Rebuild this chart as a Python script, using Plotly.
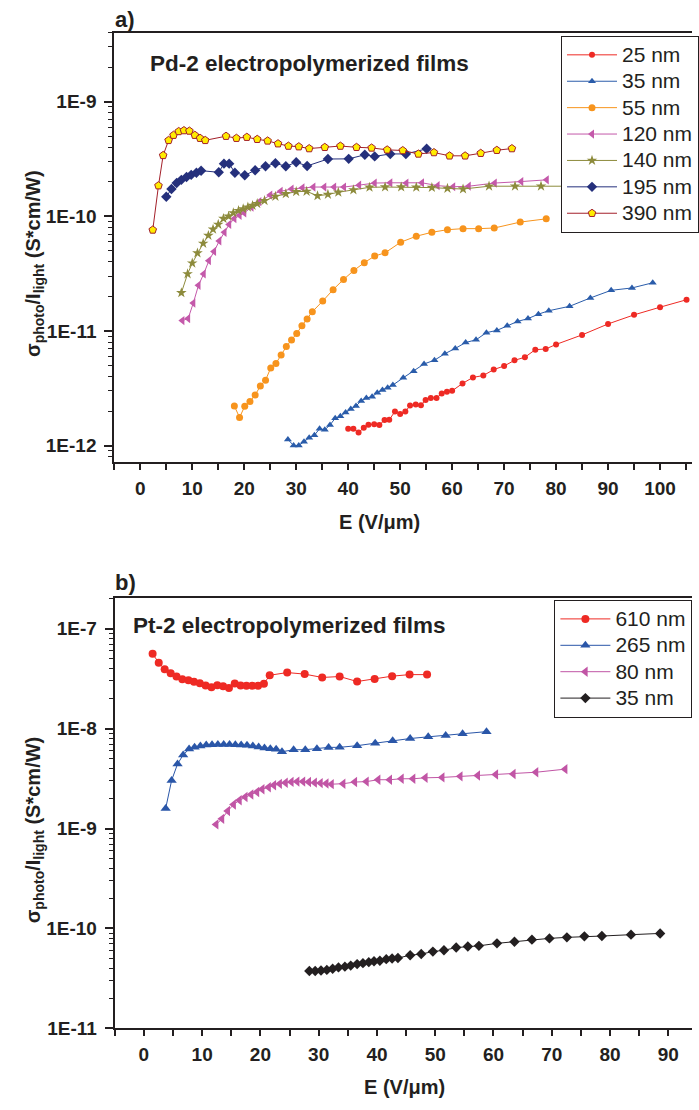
import plotly.graph_objects as go

W, H = 699, 1110
FONT = "Arial, 'Liberation Sans', sans-serif"
INK = "#231f20"

# ---------------- panel a: Pd-2 films ----------------
E_25 = [40.0, 41.0, 42.0, 43.0, 43.9, 45.0, 46.0, 47.0, 47.9, 49.0, 50.0, 51.0, 51.9, 53.0, 54.0, 54.9,
        55.9, 57.0, 58.0, 59.0, 60.0, 62.0, 64.0, 66.0, 68.0, 70.0, 72.0, 74.0, 76.0, 78.0, 80.0, 85.0,
        90.0, 95.0, 100.0, 105.1]
S_25 = [1.40e-12, 1.40e-12, 1.30e-12, 1.43e-12, 1.52e-12, 1.53e-12, 1.51e-12, 1.67e-12, 1.68e-12, 1.98e-12,
        1.88e-12, 1.98e-12, 2.23e-12, 2.28e-12, 2.25e-12, 2.50e-12, 2.60e-12, 2.60e-12, 2.84e-12, 2.95e-12,
        3.00e-12, 3.48e-12, 3.93e-12, 4.08e-12, 4.60e-12, 4.94e-12, 5.54e-12, 5.89e-12, 6.86e-12, 6.95e-12,
        7.62e-12, 9.23e-12, 1.15e-11, 1.38e-11, 1.61e-11, 1.87e-11]

E_35 = [28.4, 29.5, 30.5, 31.5, 32.5, 33.5, 34.5, 35.5, 36.5, 37.5, 38.5, 39.5, 40.5, 41.5, 42.5, 43.5,
        44.6, 45.6, 46.6, 47.6, 48.6, 50.6, 52.6, 54.6, 56.6, 58.6, 60.6, 62.6, 64.6, 66.6, 68.6, 70.6,
        72.6, 74.6, 76.6, 78.6, 82.6, 86.6, 90.6, 94.6, 98.6]
S_35 = [1.13e-12, 1.00e-12, 1.00e-12, 1.08e-12, 1.17e-12, 1.23e-12, 1.40e-12, 1.37e-12, 1.51e-12, 1.73e-12,
        1.80e-12, 1.94e-12, 2.08e-12, 2.21e-12, 2.45e-12, 2.60e-12, 2.66e-12, 2.89e-12, 3.05e-12, 3.19e-12,
        3.37e-12, 3.90e-12, 4.45e-12, 5.15e-12, 5.55e-12, 6.33e-12, 7.03e-12, 7.92e-12, 8.36e-12, 9.66e-12,
        1.01e-11, 1.11e-11, 1.21e-11, 1.28e-11, 1.40e-11, 1.50e-11, 1.64e-11, 1.94e-11, 2.26e-11, 2.37e-11,
        2.63e-11]

E_55 = [18.1, 19.1, 20.1, 21.1, 22.1, 23.1, 24.1, 25.1, 26.1, 27.1, 28.1, 29.1, 30.1, 31.1, 32.1, 33.1,
        35.1, 37.1, 39.1, 41.1, 43.1, 45.1, 47.1, 50.1, 53.1, 56.1, 59.1, 62.1, 65.1, 68.1, 73.1, 78.1]
S_55 = [2.21e-12, 1.76e-12, 2.20e-12, 2.42e-12, 2.76e-12, 3.30e-12, 3.72e-12, 4.75e-12, 5.20e-12, 6.15e-12,
        7.30e-12, 8.35e-12, 9.50e-12, 1.11e-11, 1.27e-11, 1.47e-11, 1.82e-11, 2.29e-11, 2.81e-11, 3.37e-11,
        3.94e-11, 4.50e-11, 4.80e-11, 5.94e-11, 6.70e-11, 7.25e-11, 7.64e-11, 7.80e-11, 7.80e-11, 7.90e-11,
        8.90e-11, 9.50e-11]

E_120 = [8.1, 9.2, 10.2, 11.2, 12.2, 13.2, 14.2, 15.2, 16.2, 17.1, 18.1, 19.1, 20.0, 21.4, 22.9, 25.0,
         27.0, 29.1, 31.2, 33.3, 35.4, 37.3, 39.2, 42.1, 45.1, 48.1, 51.2, 54.2, 57.2, 60.2, 63.2, 68.2,
         73.3, 78.2]
S_120 = [1.23e-11, 1.28e-11, 1.75e-11, 2.50e-11, 3.14e-11, 4.10e-11, 4.93e-11, 6.10e-11, 7.25e-11, 8.50e-11,
         9.55e-11, 1.02e-10, 1.07e-10, 1.20e-10, 1.34e-10, 1.53e-10, 1.65e-10, 1.73e-10, 1.77e-10, 1.80e-10,
         1.80e-10, 1.80e-10, 1.80e-10, 1.87e-10, 1.95e-10, 1.96e-10, 1.95e-10, 1.96e-10, 1.85e-10, 1.81e-10,
         1.83e-10, 1.95e-10, 2.01e-10, 2.08e-10]

E_140 = [7.9, 9.1, 10.0, 11.0, 12.1, 13.1, 14.0, 15.0, 16.0, 17.0, 17.9, 18.9, 19.8, 20.7, 21.6, 22.5,
         23.9, 26.0, 28.0, 30.0, 32.0, 34.1, 36.1, 38.1, 41.0, 44.1, 47.1, 50.2, 53.1, 56.1, 59.1, 62.1,
         67.1, 72.1, 77.1, 82.1]
S_140 = [2.15e-11, 3.14e-11, 3.90e-11, 4.78e-11, 5.80e-11, 6.80e-11, 7.70e-11, 8.50e-11, 9.55e-11, 1.00e-10,
         1.07e-10, 1.12e-10, 1.16e-10, 1.20e-10, 1.24e-10, 1.29e-10, 1.37e-10, 1.49e-10, 1.57e-10, 1.64e-10,
         1.65e-10, 1.51e-10, 1.55e-10, 1.62e-10, 1.70e-10, 1.79e-10, 1.80e-10, 1.80e-10, 1.79e-10, 1.78e-10,
         1.75e-10, 1.73e-10, 1.83e-10, 1.83e-10, 1.83e-10, 1.83e-10]

E_195 = [5.0, 6.0, 7.0, 7.9, 8.9, 9.8, 10.8, 11.7, 15.1, 16.1, 17.1, 18.2, 20.1, 22.1, 24.1, 26.0,
         28.0, 30.0, 32.1, 36.1, 40.1, 43.2, 45.1, 48.1, 51.1, 55.1]
S_195 = [1.48e-10, 1.73e-10, 1.95e-10, 2.08e-10, 2.20e-10, 2.30e-10, 2.40e-10, 2.50e-10, 2.42e-10, 2.88e-10,
         2.88e-10, 2.40e-10, 2.28e-10, 2.52e-10, 2.73e-10, 2.90e-10, 2.73e-10, 2.96e-10, 2.75e-10, 3.16e-10,
         3.17e-10, 3.44e-10, 3.33e-10, 3.50e-10, 3.50e-10, 3.88e-10]

E_390 = [2.4, 3.5, 4.4, 5.45, 6.4, 7.4, 8.4, 9.45, 10.5, 11.5, 12.5, 16.5, 18.5, 20.5, 22.5, 24.5,
         26.5, 28.5, 30.5, 32.5, 35.5, 38.5, 41.6, 44.5, 47.5, 50.5, 53.5, 56.5, 59.5, 62.5, 65.5, 68.6,
         71.5]
S_390 = [7.6e-11, 1.85e-10, 3.40e-10, 4.60e-10, 5.10e-10, 5.50e-10, 5.60e-10, 5.55e-10, 5.10e-10, 4.80e-10,
         4.60e-10, 5.00e-10, 4.80e-10, 4.90e-10, 4.70e-10, 4.55e-10, 4.30e-10, 4.10e-10, 4.05e-10, 3.90e-10,
         4.00e-10, 4.10e-10, 4.00e-10, 3.95e-10, 3.80e-10, 3.75e-10, 3.50e-10, 3.60e-10, 3.37e-10, 3.37e-10,
         3.55e-10, 3.77e-10, 3.90e-10]

# ---------------- panel b: Pt-2 films ----------------
E_610 = [1.5, 2.55, 3.57, 4.6, 5.6, 6.6, 7.65, 8.6, 9.6, 10.6, 11.6, 12.6, 13.6, 14.6, 15.6, 16.6,
         17.6, 18.6, 19.6, 20.6, 21.6, 24.6, 27.6, 30.6, 33.6, 36.6, 39.6, 42.6, 45.6, 48.6]
S_610 = [5.60e-8, 4.57e-8, 3.93e-8, 3.58e-8, 3.32e-8, 3.12e-8, 3.04e-8, 2.94e-8, 2.85e-8, 2.70e-8,
         2.60e-8, 2.72e-8, 2.65e-8, 2.55e-8, 2.83e-8, 2.70e-8, 2.68e-8, 2.68e-8, 2.68e-8, 2.81e-8,
         3.42e-8, 3.64e-8, 3.51e-8, 3.25e-8, 3.32e-8, 2.96e-8, 3.13e-8, 3.35e-8, 3.47e-8, 3.47e-8]

E_265 = [3.74, 4.76, 5.78, 6.74, 7.76, 8.7, 9.7, 10.7, 11.7, 12.7, 13.7, 14.7, 15.7, 16.7, 17.7, 18.7,
         19.7, 20.7, 21.7, 22.7, 23.7, 25.7, 27.7, 29.7, 31.7, 33.6, 36.6, 39.7, 42.7, 45.7, 48.8, 51.8,
         54.7, 58.8]
S_265 = [1.59e-9, 3.03e-9, 4.43e-9, 5.45e-9, 6.24e-9, 6.50e-9, 6.70e-9, 6.85e-9, 6.90e-9, 6.95e-9,
         6.95e-9, 6.95e-9, 6.90e-9, 6.85e-9, 6.80e-9, 6.70e-9, 6.55e-9, 6.40e-9, 6.30e-9, 6.20e-9,
         5.87e-9, 6.15e-9, 6.15e-9, 6.30e-9, 6.49e-9, 6.50e-9, 6.75e-9, 7.15e-9, 7.55e-9, 7.96e-9,
         8.28e-9, 8.54e-9, 8.87e-9, 9.33e-9]

E_80 = [12.4, 13.4, 14.4, 15.4, 16.4, 17.4, 18.4, 19.4, 20.3, 21.4, 22.3, 23.3, 24.3, 25.3, 26.3, 27.3,
        28.3, 29.3, 30.3, 31.3, 32.2, 34.2, 36.2, 38.2, 40.2, 42.2, 44.2, 46.2, 48.3, 51.2, 54.3, 57.3,
        60.4, 63.4, 67.3, 72.3]
S_80 = [1.10e-9, 1.25e-9, 1.50e-9, 1.74e-9, 1.92e-9, 2.07e-9, 2.19e-9, 2.32e-9, 2.47e-9, 2.59e-9,
        2.71e-9, 2.80e-9, 2.87e-9, 2.93e-9, 2.95e-9, 2.95e-9, 2.92e-9, 2.88e-9, 2.85e-9, 2.82e-9,
        2.78e-9, 2.81e-9, 2.92e-9, 2.95e-9, 3.08e-9, 3.08e-9, 3.15e-9, 3.15e-9, 3.22e-9, 3.25e-9,
        3.33e-9, 3.40e-9, 3.48e-9, 3.52e-9, 3.66e-9, 3.93e-9]

E_35b = [28.4, 29.4, 30.4, 31.4, 32.4, 33.4, 34.5, 35.5, 36.6, 37.6, 38.6, 39.5, 40.5, 41.6, 42.6, 43.6,
         45.7, 47.6, 49.6, 51.5, 53.6, 55.6, 57.5, 60.6, 63.6, 66.6, 69.6, 72.6, 75.6, 78.6, 83.6, 88.6]
S_35b = [3.75e-11, 3.75e-11, 3.80e-11, 3.85e-11, 3.95e-11, 4.08e-11, 4.15e-11, 4.25e-11, 4.40e-11, 4.50e-11,
         4.60e-11, 4.70e-11, 4.75e-11, 4.93e-11, 5.00e-11, 5.06e-11, 5.40e-11, 5.55e-11, 5.87e-11, 6.05e-11,
         6.44e-11, 6.60e-11, 6.70e-11, 7.10e-11, 7.37e-11, 7.73e-11, 7.96e-11, 8.15e-11, 8.34e-11, 8.40e-11,
         8.67e-11, 8.92e-11]

# decade tick labels of the two log axes
Y_TICKS_A = [1e-12, 1e-11, 1e-10, 1e-9]
Y_LABELS_A = ["1E-12", "1E-11", "1E-10", "1E-9"]
Y_TICKS_B = [1e-11, 1e-10, 1e-9, 1e-8, 1e-7]
Y_LABELS_B = ["1E-11", "1E-10", "1E-9", "1E-8", "1E-7"]


def minor_log(lo_exp, hi_exp):
    # 2..9 x 10^k positions for the small log ticks
    return [m * 10.0 ** k for k in range(lo_exp, hi_exp + 1) for m in range(2, 10)]


def px_x(p):
    return p / W


def px_y(p):
    return 1 - p / H


fig = go.Figure()


def add(x, y, name, color, symbol, size, axes, legend, fill=None, edge=None):
    fig.add_trace(go.Scatter(
        x=x, y=y, name='<span style="font-size:21px">' + name + '</span>', mode="lines+markers",
        xaxis=axes[0], yaxis=axes[1], legend=legend,
        line=dict(color=color, width=1),
        marker=dict(symbol=symbol, size=size, color=fill or color,
                    line=dict(color=edge or color, width=1 if edge else 0)),
    ))


A = ("x", "y")
B = ("x2", "y2")
add(E_25, S_25, "25 nm", "#ee2a24", "circle", 6, A, "legend")
add(E_35, S_35, "35 nm", "#2a5caa", "triangle-up", 7, A, "legend")
add(E_55, S_55, "55 nm", "#f7941d", "circle", 7, A, "legend")
add(E_120, S_120, "120 nm", "#c459aa", "triangle-left", 8, A, "legend")
add(E_140, S_140, "140 nm", "#8d8b3c", "star", 8, A, "legend")
add(E_195, S_195, "195 nm", "#25307c", "diamond", 8, A, "legend")
add(E_390, S_390, "390 nm", "#a3202a", "pentagon", 8, A, "legend", fill="#ffec00", edge="#a3202a")

add(E_610, S_610, "610 nm", "#ee2a24", "circle", 8, B, "legend2")
add(E_265, S_265, "265 nm", "#2a56a8", "triangle-up", 9, B, "legend2")
add(E_80, S_80, "80 nm", "#c155a5", "triangle-left", 9, B, "legend2")
add(E_35b, S_35b, "35 nm", INK, "diamond", 8, B, "legend2")

tickfont = dict(family=FONT, size=19, color=INK, weight="bold")
xcommon = dict(showline=True, linewidth=2, linecolor=INK, mirror=True, ticks="outside",
               ticklen=6, tickwidth=1.5, tickcolor=INK, dtick=10, tick0=0,
               minor=dict(ticks="outside", dtick=5, ticklen=6, tickwidth=1.5, tickcolor=INK),
               showgrid=False, zeroline=False, tickfont=tickfont, ticklabelstandoff=2)
ycommon = dict(type="log", showline=True, linewidth=2, linecolor=INK, mirror=False,
               ticks="outside", ticklen=8, tickwidth=1.5, tickcolor=INK,
               showgrid=False, zeroline=False, tickfont=tickfont, ticklabelstandoff=4)
yminor = dict(ticks="outside", ticklen=4, tickwidth=1, tickcolor=INK, showgrid=False)

fig.update_layout(
    width=W, height=H, margin=dict(l=0, r=0, t=0, b=0),
    paper_bgcolor="white", plot_bgcolor="white", showlegend=True,
    font=dict(family=FONT, color=INK),
    xaxis=dict(domain=[px_x(115.45), 1], range=[-5, 106.15], anchor="y", **xcommon),
    yaxis=dict(domain=[px_y(467), px_y(33)], range=[-12.147, -8.398], anchor="x",
               tickvals=Y_TICKS_A, ticktext=Y_LABELS_A,
               minor=dict(tickvals=minor_log(-13, -9), **yminor), **ycommon),
    xaxis2=dict(domain=[px_x(115.9), 1], range=[-5, 94.07], anchor="y2", **xcommon),
    yaxis2=dict(domain=[px_y(1038.7), px_y(604)], range=[-11, -6.693], anchor="x2",
                tickvals=Y_TICKS_B, ticktext=Y_LABELS_B,
                minor=dict(tickvals=minor_log(-11, -7), **yminor), **ycommon),
    legend=dict(x=px_x(566.7), y=px_y(36), xanchor="left", yanchor="top",
                bgcolor="white", bordercolor=INK, borderwidth=1,
                font=dict(family=FONT, size=18, color=INK), itemwidth=50,
                tracegroupgap=0),
    legend2=dict(x=px_x(560), y=px_y(605.7), xanchor="left", yanchor="top",
                 bgcolor="white", bordercolor=INK, borderwidth=1,
                 font=dict(family=FONT, size=18, color=INK), itemwidth=50,
                 tracegroupgap=0),
)

ytitle = "σ<sub>photo</sub>/I<sub>light</sub> (S*cm/W)"
bold = dict(family=FONT, color=INK)
notes = [
    dict(text="<b>a)</b>", x=px_x(114), y=px_y(20), xanchor="left", yanchor="middle", size=22),
    dict(text="<b>b)</b>", x=px_x(114), y=px_y(588), xanchor="left", yanchor="middle", size=22),
    dict(text="<b>Pd-2 electropolymerized films</b>", x=px_x(149), y=px_y(64),
         xanchor="left", yanchor="middle", size=22.5),
    dict(text="<b>Pt-2 electropolymerized films</b>", x=px_x(132), y=px_y(632),
         xanchor="left", yanchor="middle", size=22.5),
    dict(text="<b>E (V/μm)</b>", x=px_x(383), y=px_y(527), xanchor="center", yanchor="middle", size=20),
    dict(text="<b>E (V/μm)</b>", x=px_x(409), y=px_y(1098), xanchor="center", yanchor="middle", size=20),
]
for n in notes:
    fig.add_annotation(text=n["text"], x=n["x"], y=n["y"], xref="paper", yref="paper",
                       xanchor=n["xanchor"], yanchor=n["yanchor"], showarrow=False,
                       font=dict(size=n["size"], **bold))
for yc in (266, 838):
    fig.add_annotation(text="<b>" + ytitle + "</b>", x=px_x(35), y=px_y(yc), xref="paper", yref="paper",
                       xanchor="center", yanchor="middle", textangle=-90, showarrow=False,
                       font=dict(size=20, **bold))

fig.write_html("out.html")
